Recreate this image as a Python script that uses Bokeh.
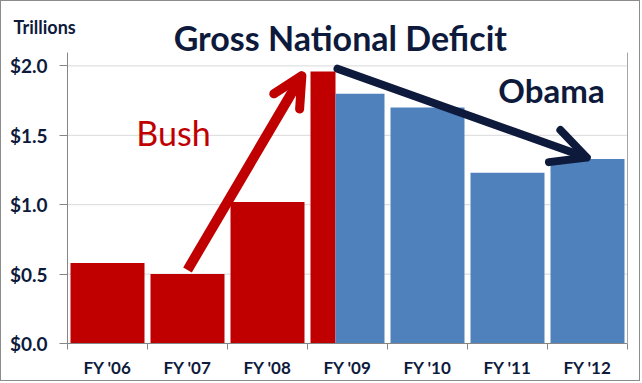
from bokeh.plotting import figure
from bokeh.models import Range1d, FixedTicker, Label, Arrow, OpenHead, LinearAxis
from bokeh.embed import file_html
from bokeh.resources import INLINE

# ---- data ----
years = ["FY '06", "FY '07", "FY '08", "FY '09", "FY '10", "FY '11", "FY '12"]
bush_years = ["FY '06", "FY '07", "FY '08", "FY '09"]
bush_values = [0.58, 0.50, 1.02, 1.96]
obama_years = ["FY '09", "FY '10", "FY '11", "FY '12"]
obama_values = [1.80, 1.70, 1.23, 1.33]
y_ticks = [0.0, 0.5, 1.0, 1.5, 2.0]
y_tick_labels = ["$0.0", "$0.5", "$1.0", "$1.5", "$2.0"]
y_top = 2.1
# arrows (data coordinates: category index space, trillions)
bush_arrow = dict(x_start=1.5, y_start=0.53, x_end=2.93, y_end=1.93)
obama_arrow = dict(x_start=3.375, y_start=1.98, x_end=6.49, y_end=1.34)

RED = "#C00000"
BLUE = "#4F81BD"
NAVY = "#0E1A3C"
GRAY = "#868686"
FONT = "Lato"

W, H = 640, 381
PX_X, PX_Y = 80.0, 138.8      # pixels per unit
X0, Y0 = 66, 342              # canvas pixel of data origin

pad = 0.0375          # gap at each side of a bar, in category units
split = 0.35          # where FY'09 bar changes from red to blue
shared = "FY '09"

idx = {y: i for i, y in enumerate(years)}
n = len(years)

b_left = [idx[y] + pad for y in bush_years]
b_right = [idx[y] + (split if y == shared else 1 - pad) for y in bush_years]
o_left = [idx[y] + (split if y == shared else pad) for y in obama_years]
o_right = [idx[y] + 1 - pad for y in obama_years]

p = figure(width=W, height=H, output_backend="svg", toolbar_location=None,
           title=None,
           x_range=Range1d(-X0 / PX_X, (W - X0) / PX_X),
           y_range=Range1d(-(H - Y0) / PX_Y, Y0 / PX_Y),
           min_border=0, min_border_left=0, min_border_right=0,
           min_border_top=0, min_border_bottom=0)
p.styles = {"border": "1px solid #8C8C8C"}
p.outline_line_color = None
p.background_fill_color = "white"
p.border_fill_color = "white"
p.xgrid.visible = False
p.ygrid.visible = False

# grid lines at the y ticks
p.segment(x0=0, x1=n, y0=y_ticks, y1=y_ticks, line_color="#D9D9D9",
          line_width=1, level="underlay")

p.quad(left=b_left, right=b_right, bottom=0, top=bush_values,
       fill_color=RED, line_color=None)
p.quad(left=o_left, right=o_right, bottom=0, top=obama_values,
       fill_color=BLUE, line_color=None)

# axes
xa = p.xaxis[0]
xa.fixed_location = 0
xa.bounds = (0, n)
xa.ticker = FixedTicker(ticks=[i + 0.5 for i in range(n)],
                        minor_ticks=list(range(n + 1)))
xa.major_label_overrides = {i + 0.5: y for i, y in enumerate(years)}
xa.major_tick_out = 0
xa.major_tick_in = 0
xa.minor_tick_out = 6
xa.minor_tick_in = 0
xa.minor_tick_line_color = GRAY
xa.axis_line_color = GRAY
xa.major_label_text_font = FONT
xa.major_label_text_font_style = "bold"
xa.major_label_text_font_size = "17px"
xa.major_label_text_color = NAVY
xa.major_label_standoff = 7

ya = p.yaxis[0]
ya.fixed_location = 0
ya.bounds = (0, y_top)
ya.ticker = FixedTicker(ticks=y_ticks)
ya.major_label_overrides = dict(zip(y_ticks, y_tick_labels))
ya.major_tick_out = 8
ya.major_tick_in = 0
ya.minor_tick_line_color = None
ya.major_tick_line_color = GRAY
ya.axis_line_color = GRAY
ya.major_label_text_font = FONT
ya.major_label_text_font_style = "bold"
ya.major_label_text_font_size = "19px"
ya.major_label_text_color = NAVY
ya.major_label_standoff = 12

ra = LinearAxis(fixed_location=n, bounds=(0, y_top), ticker=FixedTicker(ticks=[]),
                axis_line_color="#A6A6A6", major_tick_line_color=None,
                minor_tick_line_color=None, major_label_text_font_size="0px")
p.add_layout(ra, "right")

# arrows
p.add_layout(Arrow(**bush_arrow, line_color=RED, line_width=10, line_cap="butt",
                   end=OpenHead(size=30, line_width=9, line_color=RED,
                                line_cap="round", line_join="round")))
p.add_layout(Arrow(**obama_arrow, line_color=NAVY, line_width=8, line_cap="round",
                   end=OpenHead(size=34, line_width=8, line_color=NAVY,
                                line_cap="round", line_join="round")))

# texts
p.add_layout(Label(x=3.41, y=2.207, text="Gross National Deficit",
                   text_align="center", text_baseline="alphabetic",
                   text_font=FONT, text_font_style="bold",
                   text_font_size="34px", text_color=NAVY))
p.add_layout(Label(x=-0.675, y=2.279, text="Trillions",
                   text_align="left", text_baseline="alphabetic",
                   text_font=FONT, text_font_style="bold",
                   text_font_size="18px", text_color=NAVY))
p.add_layout(Label(x=1.325, y=1.522, text="Bush",
                   text_align="center", text_baseline="alphabetic",
                   text_font=FONT, text_font_size="34px", text_color=RED))
p.add_layout(Label(x=6.05, y=1.825, text="Obama",
                   text_align="center", text_baseline="alphabetic",
                   text_font=FONT, text_font_style="bold",
                   text_font_size="33px", text_color=NAVY))

open("out.html", "w").write(file_html(p, INLINE))
